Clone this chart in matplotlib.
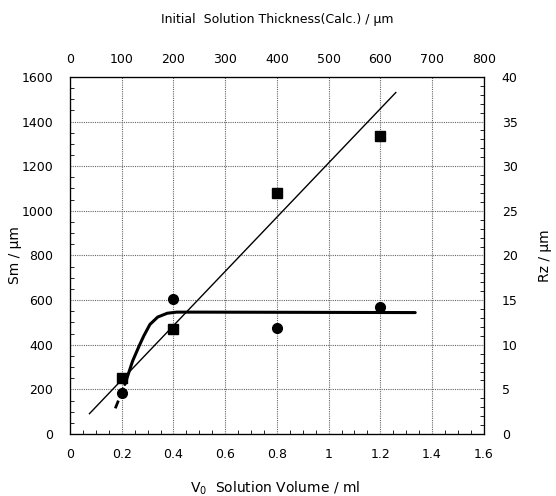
import matplotlib
matplotlib.use("Agg")
import matplotlib.pyplot as plt
from matplotlib.ticker import MultipleLocator

# data
volume = [0.2, 0.4, 0.8, 1.2]
sm_squares = [250, 470, 1080, 1335]
sm_circles = [185, 605, 475, 570]
fit_line_x = [0.075, 1.26]
fit_line_y = [91, 1530]
curve_x = [0.212, 0.242, 0.267, 0.285, 0.309, 0.339, 0.376, 0.412, 0.50, 1.335]
curve_y = [222, 327, 394, 439, 491, 524, 541, 546, 546, 544]
dash_x = [0.175, 0.212]
dash_y = [115, 222]

x_ticks = [0, 0.2, 0.4, 0.6, 0.8, 1, 1.2, 1.4, 1.6]
x_labels = ["0", "0.2", "0.4", "0.6", "0.8", "1", "1.2", "1.4", "1.6"]
top_ticks = [0, 100, 200, 300, 400, 500, 600, 700, 800]
y_ticks = [0, 200, 400, 600, 800, 1000, 1200, 1400, 1600]
rz_ticks = [0, 5, 10, 15, 20, 25, 30, 35, 40]

plt.rcParams['font.family'] = ['DejaVu Sans']
fig = plt.figure(figsize=(5.56, 4.96), dpi=100)
ax = fig.add_axes([0.126, 0.125, 0.744, 0.72])

ax.set_xlim(0, 1.6)
ax.set_ylim(0, 1600)
ax.set_xticks(x_ticks)
ax.set_xticklabels(x_labels)
ax.set_yticks(y_ticks)
ax.xaxis.set_minor_locator(MultipleLocator(0.05))
ax.yaxis.set_minor_locator(MultipleLocator(50))
ax.grid(True, which='major', color='#666666', linestyle=(0, (1, 1)), linewidth=0.8)
ax.tick_params(which='both', direction='in', labelsize=9)
ax.tick_params(which='major', length=0)
ax.tick_params(which='minor', length=3)
ax.tick_params(axis='x', pad=10)
ax.tick_params(axis='y', pad=12)
ax.set_axisbelow(True)

ax.plot(fit_line_x, fit_line_y, color='black', linewidth=1.0)
ax.plot(curve_x, curve_y, color='black', linewidth=2.2, solid_capstyle='round',
        solid_joinstyle='round')
ax.plot(dash_x, dash_y, color='black', linewidth=2.0, linestyle=(0, (3, 2)))
ax.plot(volume, sm_squares, linestyle='none', marker='s', markersize=7, color='black')
ax.plot(volume, sm_circles, linestyle='none', marker='o', markersize=7, color='black')

ax.set_ylabel("Sm / μm", fontsize=10)
ax.yaxis.set_label_coords(-0.116, 0.5)
ax.set_xlabel("V$_0$  Solution Volume / ml", fontsize=10, va='center')
ax.xaxis.set_label_coords(0.495, -0.151)

ax2 = ax.twinx()
ax2.set_ylim(0, 40)
ax2.set_yticks(rz_ticks)
ax2.yaxis.set_minor_locator(MultipleLocator(1))
ax2.tick_params(which='both', direction='in', labelsize=9, pad=13)
ax2.tick_params(which='major', length=0)
ax2.tick_params(which='minor', length=3)
ax2.set_ylabel("Rz / μm", fontsize=10, va='center')
ax2.yaxis.set_label_coords(1.147, 0.5)

ax3 = ax.twiny()
ax3.set_xlim(0, 800)
ax3.set_xticks(top_ticks)
ax3.tick_params(which='both', direction='in', length=0, labelsize=9, pad=8)
ax3.set_xlabel("Initial  Solution Thickness(Calc.) / μm", fontsize=9, va='center')
ax3.xaxis.set_label_coords(0.5, 1.16)

fig.savefig("out.png", dpi=100)
